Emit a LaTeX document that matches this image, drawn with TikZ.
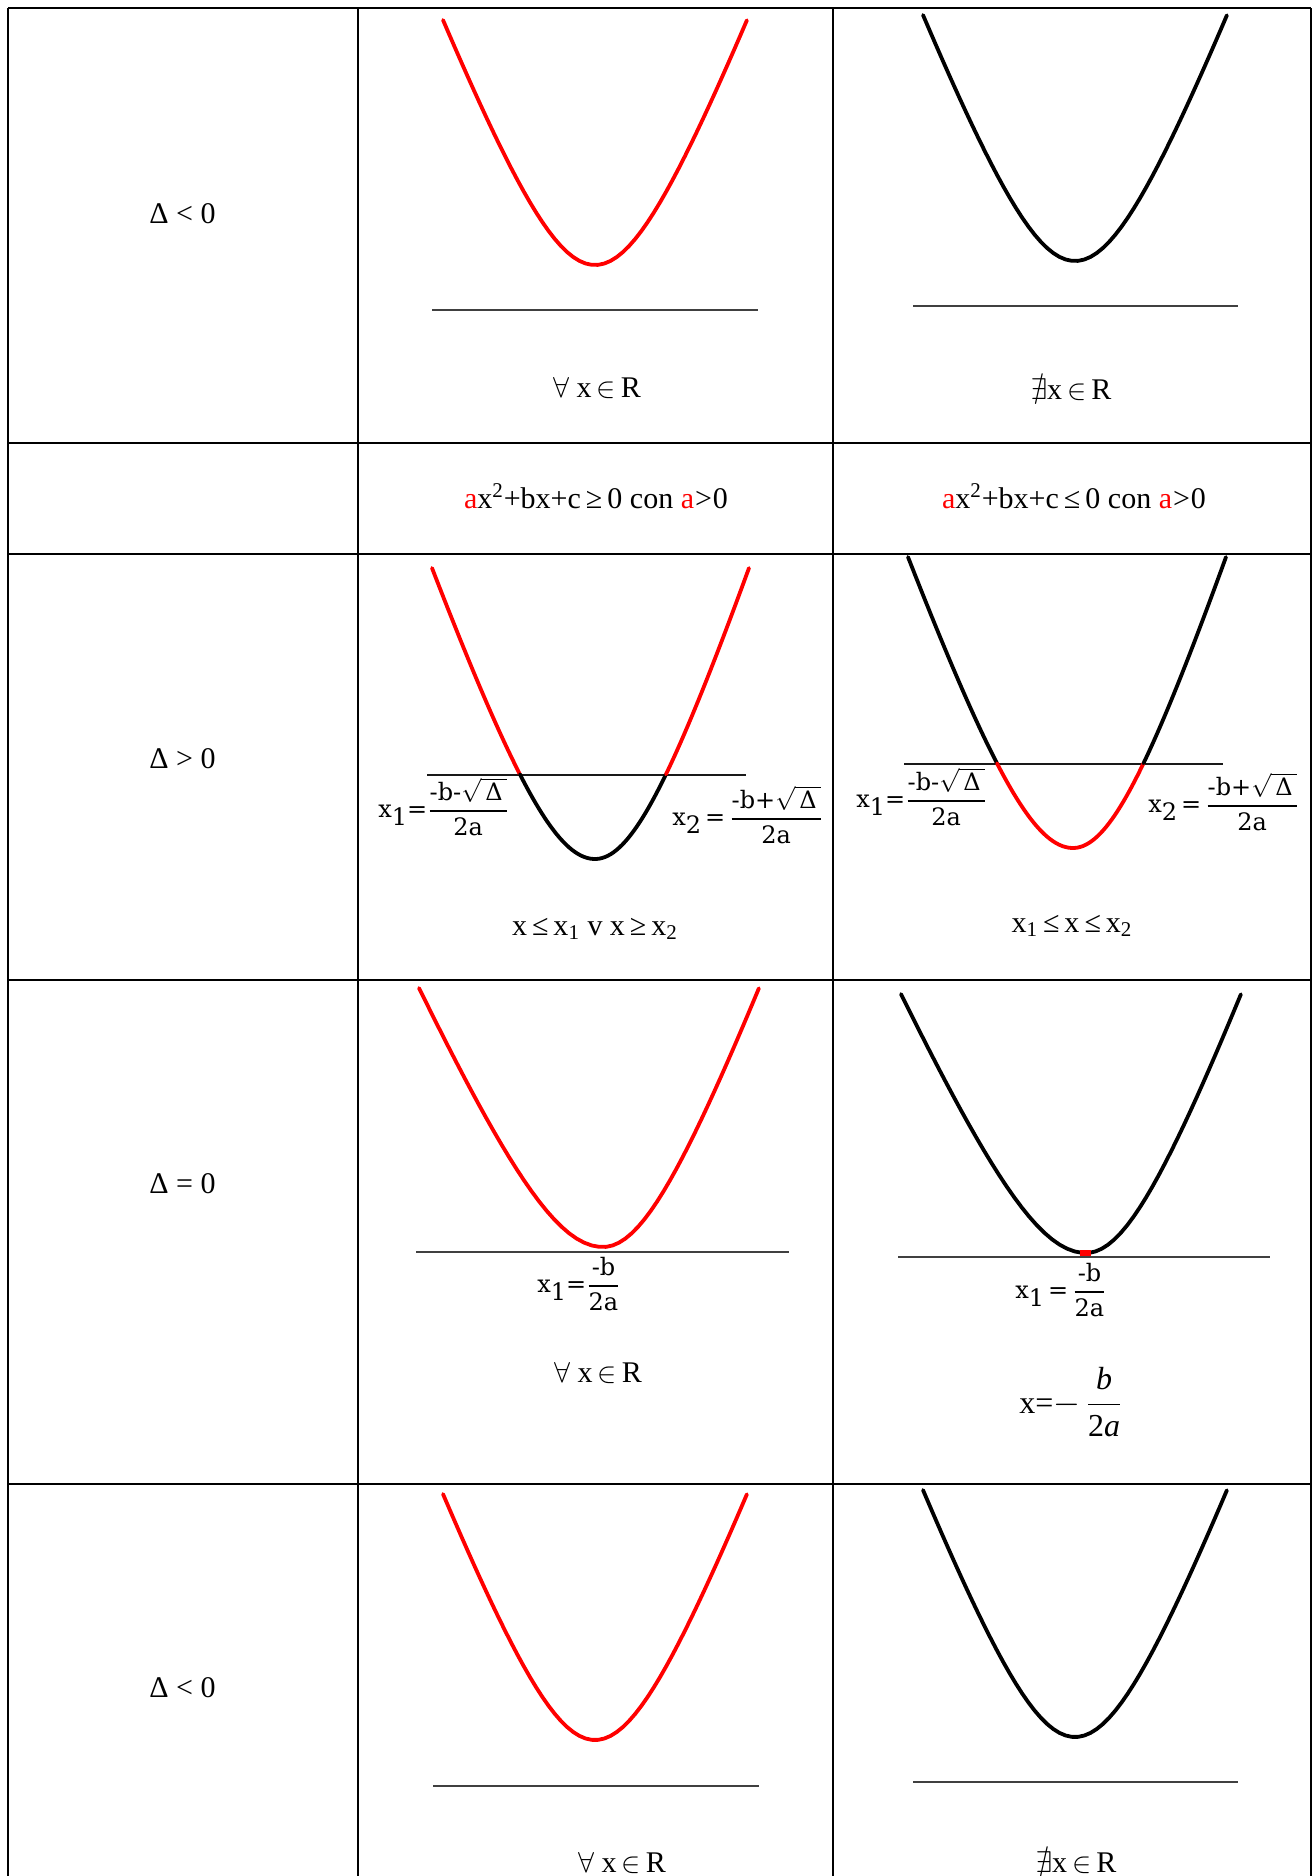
\documentclass[tikz,border=0pt]{standalone}
\usepackage{amsmath,amssymb}
\usepackage{fontspec}
\setmainfont{Liberation Serif}
\newfontfamily\pixfont{DejaVu Serif}
\newcommand\pf[2]{$\genfrac{}{}{1pt}{0}{\hbox{#1}}{\hbox{#2}}$}
\newcommand\lsub[1]{\raisebox{-0.65ex}{#1}}
% #1 style, #2 vertex x, #3 vertex y, #4 left half-width, #5 right half-width, #6 depth, #7 domain in [-1,1]
\newcommand\parab[7]{\draw[curve,#1] plot[domain=#7,samples=50] ({#2+(\x<0?#4:#5)*(\x)},{#3-#6*(sqrt(1+4*\x*\x)-1)/1.23607});}
\begin{document}
\begin{tikzpicture}[x=0.5pt,y=-0.5pt,
  grid/.style={line width=1.1pt,black},
  curve/.style={line width=1.9pt,line join=round,line cap=round},
  axis/.style={line width=1.3pt,black!75},
  thinaxis/.style={line width=1.1pt,black!90},
  lbl/.style={font=\fontsize{15}{18}\selectfont,inner sep=0pt},
  pix/.style={font=\pixfont\fontsize{12}{14}\selectfont,inner sep=0pt}]
\useasboundingbox (0,0) rectangle (1315,1876);
% table grid
\foreach \gx in {8,358,833,1311} \draw[grid] (\gx,8) -- (\gx,1876);
\foreach \gy in {8,443,554,980,1484} \draw[grid] (8,\gy) -- (1311,\gy);
% axes
\draw[axis] (432,310) -- (758,310);
\draw[axis] (913,306) -- (1238,306);
\draw[thinaxis] (427,775) -- (746,775);
\draw[thinaxis] (904,764) -- (1223,764);
\draw[axis] (416,1252) -- (789,1252);
\draw[axis] (898,1257) -- (1270,1257);
\draw[axis] (433,1786) -- (759,1786);
\draw[axis] (913,1782) -- (1238,1782);
% parabolas
\parab{red}{595}{265}{152}{152}{245}{-1:1}
\parab{black}{1075}{261}{152}{152}{246}{-1:1}
\parab{red}{595}{859}{163}{154}{291}{-1:-0.4608}
\parab{black}{595}{859}{163}{154}{291}{-0.4608:0.4608}
\parab{red}{595}{859}{163}{154}{291}{0.4608:1}
\parab{black}{1073}{848}{165}{153}{291}{-1:-0.4608}
\parab{red}{1073}{848}{165}{153}{291}{-0.4608:0.4608}
\parab{black}{1073}{848}{165}{153}{291}{0.4608:1}
\parab{red}{603}{1247}{184}{156}{259}{-1:1}
\parab{black}{1086}{1253}{185}{155}{259}{-1:1}
\fill[red] (1080,1250) rectangle (1091,1256);
\parab{red}{595}{1740}{152}{152}{246}{-1:1}
\parab{black}{1075}{1737}{152}{152}{247}{-1:1}
% row 1
\node[lbl,anchor=base west] (d1) at (149,223) {Δ < 0};
\node[lbl,anchor=base] (t1a) at (597,397) {$\forall$ x\,$\in$\,R};
\node[lbl,anchor=base] (t1b) at (1071,399) {$\nexists$x\,$\in$\,R};
% row 2
\node[lbl,anchor=base] (r2a) at (596,508) {{\color{red}a}x\textsuperscript{2}+bx+c\,≥\,0 con {\color{red}a}\kern0.5pt>\kern0.5pt0};
\node[lbl,anchor=base] (r2b) at (1074,508) {{\color{red}a}x\textsuperscript{2}+bx+c\,≤\,0 con {\color{red}a}\kern0.5pt>\kern0.5pt0};
% row 3
\node[lbl,anchor=base west] (d3) at (149,768) {Δ > 0};
\node[pix,anchor=base west] (x1a) at (378,817) {x\lsub{1}=\pf{-b-$\sqrt{\hbox{\,Δ\,}}$}{2a}};
\node[pix,anchor=base west] (x2a) at (672,825) {x\lsub{2}\,=\,\pf{-b+$\sqrt{\hbox{\,Δ\,}}$}{2a}};
\node[pix,anchor=base west] (x1b) at (856,807) {x\lsub{1}=\pf{-b-$\sqrt{\hbox{\,Δ\,}}$}{2a}};
\node[pix,anchor=base west] (x2b) at (1148,812) {x\lsub{2}\,=\,\pf{-b+$\sqrt{\hbox{\,Δ\,}}$}{2a}};
\node[lbl,anchor=base] (s3a) at (595,935) {x\,≤\,x\textsubscript{1} v x\,≥\,x\textsubscript{2}};
\node[lbl,anchor=base] (s3b) at (1072,932) {x\textsubscript{1}\,≤\,x\,≤\,x\textsubscript{2}};
% row 4
\node[lbl,anchor=base west] (d4) at (149,1193) {Δ = 0};
\node[pix,anchor=base west] (x0a) at (537,1292) {x\lsub{1}=\pf{-b}{2a}};
\node[pix,anchor=base west] (x0b) at (1015,1298) {x\lsub{1}\,=\,\pf{-b}{2a}};
\node[lbl,anchor=base] (t4a) at (598,1382) {$\forall$ x\,$\in$\,R};
\node[lbl,anchor=base west,font=\fontsize{16}{19}\selectfont] (t4b) at (1019,1413) {x=$-$\,$\genfrac{}{}{0.6pt}{0}{\hbox{\itshape b\vphantom{l}}}{\hbox{2\itshape a\vphantom{l}}}$};
% row 5
\node[lbl,anchor=base west] (d5) at (149,1697) {Δ < 0};
\node[lbl,anchor=base] (t5a) at (622,1872) {$\forall$ x\,$\in$\,R};
\node[lbl,anchor=base] (t5b) at (1076,1872) {$\nexists$x\,$\in$\,R};
\end{tikzpicture}
\end{document}
